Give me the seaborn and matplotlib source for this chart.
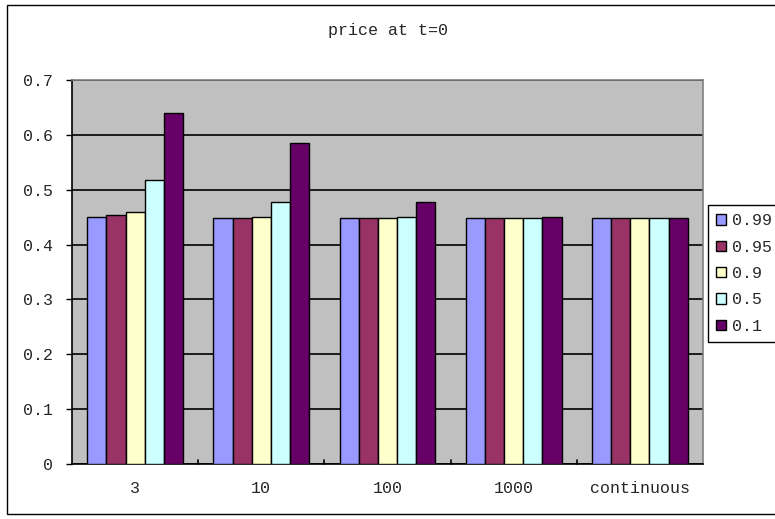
import matplotlib
matplotlib.use("Agg")
import matplotlib.pyplot as plt
from matplotlib.patches import Rectangle
import seaborn as sns
import pandas as pd

# Number of steps used to price the option, plus the continuous limit
categories = ["3", "10", "100", "1000", "continuous"]
series_names = ["0.99", "0.95", "0.9", "0.5", "0.1"]

price_099 = [0.451, 0.448, 0.448, 0.448, 0.448]
price_095 = [0.454, 0.448, 0.448, 0.448, 0.448]
price_090 = [0.459, 0.451, 0.448, 0.448, 0.448]
price_050 = [0.517, 0.478, 0.451, 0.448, 0.448]
price_010 = [0.639, 0.586, 0.478, 0.451, 0.448]

y_ticks = [0, 0.1, 0.2, 0.3, 0.4, 0.5, 0.6, 0.7]
y_tick_labels = ["0", "0.1", "0.2", "0.3", "0.4", "0.5", "0.6", "0.7"]

colors = ["#9999FF", "#993366", "#FFFFCC", "#CCFFFF", "#660066"]

rows = []
for name, vals in zip(series_names,
                      [price_099, price_095, price_090, price_050, price_010]):
    for cat, v in zip(categories, vals):
        rows.append({"steps": cat, "p": name, "price": v})
df = pd.DataFrame(rows)

sns.set_theme(style="white")
plt.rcParams["font.family"] = ["Liberation Mono", "DejaVu Sans"]

fig = plt.figure(figsize=(7.75, 5.19), dpi=100)
ax = fig.add_axes([72 / 775, 1 - 464 / 519, 631 / 775, 384 / 519])
ax.set_facecolor("#C0C0C0")

sns.barplot(data=df, x="steps", y="price", hue="p", order=categories,
            hue_order=series_names, palette=colors, width=0.76,
            edgecolor="black", linewidth=1.0, saturation=1, ax=ax,
            legend=True, zorder=3)

ax.set_ylim(0, 0.7)
ax.set_xlim(-0.5, len(categories) - 0.5)
ax.set_yticks(y_ticks)
ax.set_yticklabels(y_tick_labels, fontsize=12)
ax.yaxis.grid(True, color="black", linewidth=1.2, zorder=0)
ax.set_axisbelow(True)
ax.set_xlabel("")
ax.set_ylabel("")
ax.tick_params(axis="x", length=0, labelsize=12, pad=12)
ax.tick_params(axis="y", length=4, width=1, color="black", labelsize=12,
               pad=10, left=True)

for side in ("top", "right"):
    ax.spines[side].set_color("#808080")
    ax.spines[side].set_linewidth(1.2)
for side in ("left", "bottom"):
    ax.spines[side].set_color("black")
    ax.spines[side].set_linewidth(1.2)

# Category separator ticks along the bottom axis
for b in range(1, len(categories)):
    ax.plot([b - 0.5, b - 0.5], [0, 0.008], color="black", lw=1.2,
            zorder=4, clip_on=False)

fig.text(0.5, 1 - 30 / 519, "price at t=0", ha="center", va="center",
         fontsize=12)

handles, labels = ax.get_legend_handles_labels()
ax.legend(handles, labels, loc="upper left",
          bbox_to_anchor=(708 / 775, 1 - 205 / 519),
          bbox_transform=fig.transFigure, borderaxespad=0, fancybox=False,
          edgecolor="black", framealpha=1, fontsize=12,
          handlelength=0.6, handleheight=0.6, handletextpad=0.35,
          labelspacing=0.68, borderpad=0.5)
ax.get_legend().get_frame().set_linewidth(1.0)

# Chart area border
fig.patches.append(Rectangle((7 / 775, 5 / 519), 1.0, 1 - 10 / 519,
                             transform=fig.transFigure, fill=False,
                             edgecolor="black", linewidth=1.0))

fig.savefig("out.png", dpi=100)
